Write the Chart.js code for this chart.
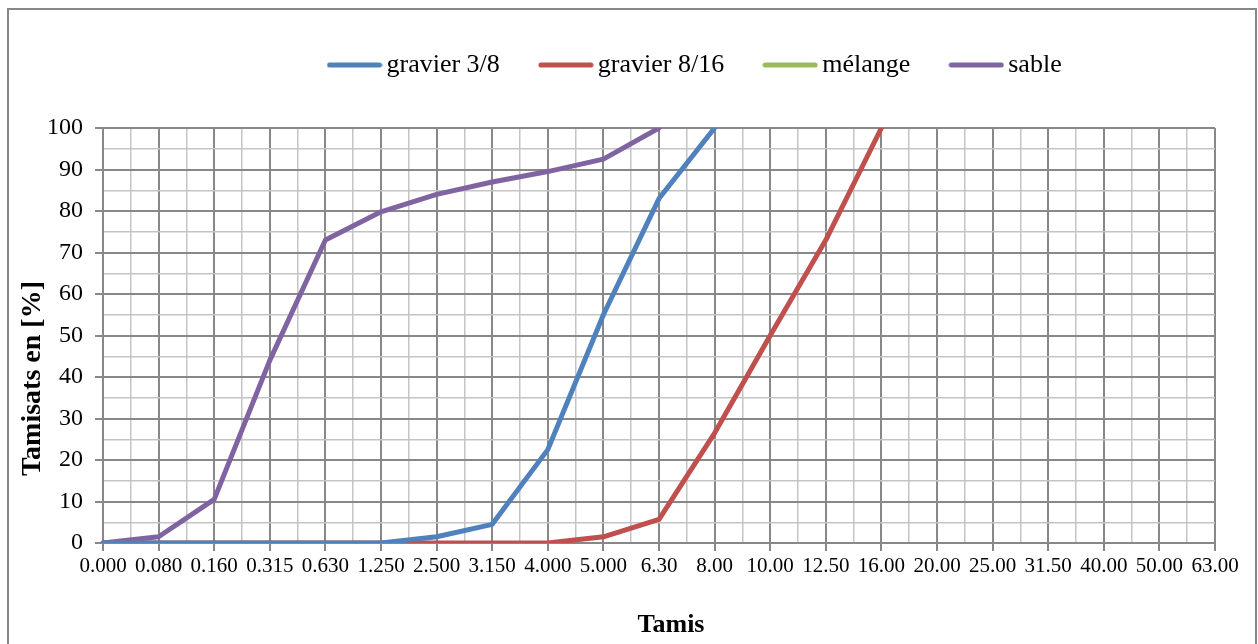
<!DOCTYPE html>
<html>
<head>
<meta charset="utf-8">
<script src="https://cdn.jsdelivr.net/npm/chart.js@4"></script>
<style>
  html, body { margin: 0; padding: 0; background: #fff; }
  #wrap { position: relative; width: 1258px; height: 644px; overflow: hidden; }
  #frame { position: absolute; left: 7px; top: 8px; width: 1246px; height: 700px;
           border: 2px solid #888; border-bottom: none; pointer-events: none; }
  canvas { position: absolute; left: 0; top: 0; }
</style>
</head>
<body>
<div id="wrap">
  <canvas id="chart" width="1258" height="644"></canvas>
  <div id="frame"></div>
</div>
<script>
// Sieve sizes (mm) shown along the horizontal axis
const sieves = ['0.000','0.080','0.160','0.315','0.630','1.250','2.500','3.150','4.000','5.000',
                '6.30','8.00','10.00','12.50','16.00','20.00','25.00','31.50','40.00','50.00','63.00'];

// Cumulative passing (%) for each material
const gravier38  = [0, 0, 0, 0, 0, 0, 1.5, 4.5, 22.5, 55, 83, 100, null, null, null, null, null, null, null, null, null];
const gravier816 = [0, 0, 0, 0, 0, 0, 0, 0, 0, 1.5, 5.7, 26.5, 50, 73, 100, null, null, null, null, null, null];
const melange    = [null, null, null, null, null, null, null, null, null, null, null, null, null, null, null, null, null, null, null, null, null];
const sable      = [0, 1.5, 10.5, 44, 73, 79.8, 84, 87, 89.5, 92.5, 100, null, null, null, null, null, null, null, null, null, null];

// Y-axis ticks: labelled every 10, minor gridline every 5
const yTickStep = 5;
const yLabelStep = 10;

const xTitle = 'Tamis';
const yTitle = 'Tamisats en [%]';

const MAJOR = '#888888';
const MINOR = '#c4c4c4';
const SERIF = '"Liberation Serif", "Times New Roman", serif';

// Fixed plot frame
const PLOT = { left: 103, right: 1215, top: 128, bottom: 543 };
const LEGEND_TOP = 5;
const LEGEND_FIRST_X = 335.5;   // left edge of the first legend item box
const LEGEND_BOX = 38;          // legend box width used for text placement

// Legend swatch: a thick rounded stroke slightly wider than the box
function swatch(color) {
  const c = document.createElement('canvas');
  c.width = 56; c.height = 8;
  const g = c.getContext('2d');
  g.strokeStyle = color;
  g.lineWidth = 5;
  g.lineCap = 'round';
  g.beginPath();
  g.moveTo(3, 4);
  g.lineTo(53, 4);
  g.stroke();
  return c;
}

const framePlugin = {
  id: 'framePlugin',
  beforeInit(chart) {
    const legend = chart.legend;
    const fit = legend.fit;
    legend.fit = function () {
      fit.call(this);
      this.height = PLOT.top - LEGEND_TOP;
    };
  },
  afterLayout(chart) {
    const l = chart.legend;
    const pad = l.options.labels.padding;
    const start = (l.left + pad + l.right - l.lineWidths[0]) / 2;
    const dx = LEGEND_FIRST_X - start;
    l.left += dx;
    l.right += dx;
  },
  afterDraw(chart) {
    const ctx = chart.ctx;
    ctx.save();
    ctx.fillStyle = '#000';
    ctx.font = 'bold 26px ' + SERIF;
    ctx.textAlign = 'center';
    ctx.textBaseline = 'alphabetic';
    ctx.fillText(xTitle, 671, 632);
    ctx.translate(40, 378.5);
    ctx.rotate(-Math.PI / 2);
    ctx.font = 'bold 28px ' + SERIF;
    ctx.fillText(yTitle, 0, 0);
    ctx.restore();
  }
};

function series(label, data, color) {
  return {
    label, data,
    borderColor: color,
    backgroundColor: color,
    borderWidth: 5,
    borderCapStyle: 'round',
    borderJoinStyle: 'round',
    pointStyle: swatch(color),
    pointRadius: 0,
    pointHoverRadius: 0,
    tension: 0,
    spanGaps: false,
    fill: false
  };
}

new Chart(document.getElementById('chart'), {
  type: 'line',
  data: {
    labels: sieves,
    datasets: [
      series('gravier 3/8', gravier38, '#4f81bd'),
      series('gravier 8/16', gravier816, '#c0504d'),
      series('mélange', melange, '#9bbb59'),
      series('sable', sable, '#8064a2')
    ]
  },
  options: {
    responsive: false,
    animation: false,
    devicePixelRatio: 1,
    layout: { padding: { left: 10, right: 1258 - PLOT.right, top: LEGEND_TOP, bottom: 0 } },
    plugins: {
      tooltip: { enabled: false },
      legend: {
        position: 'top',
        align: 'center',
        labels: {
          usePointStyle: true,
          pointStyleWidth: LEGEND_BOX,
          padding: 47,
          color: '#000',
          font: { family: SERIF, size: 26 }
        }
      }
    },
    scales: {
      x: {
        type: 'category',
        position: 'bottom',
        offset: false,
        grid: {
          color: MAJOR,
          lineWidth: 2,
          tickLength: 8,
          tickColor: MAJOR,
          offset: false
        },
        border: { color: MAJOR, width: 2 },
        ticks: {
          autoSkip: false,
          maxRotation: 0,
          minRotation: 0,
          padding: 3,
          color: '#000',
          font: { family: SERIF, size: 21 }
        },
        title: { display: false },
        afterFit(scale) {
          scale.height = 644 - PLOT.bottom;
          scale.paddingLeft = 0;
          scale.paddingRight = 0;
        }
      },
      xMinor: {
        type: 'linear',
        position: 'top',
        min: 0,
        max: sieves.length - 1,
        ticks: { display: false, stepSize: 0.5 },
        grid: {
          drawTicks: false,
          lineWidth: 1.5,
          color: c => Number.isInteger(c.tick.value) ? 'rgba(0,0,0,0)' : MINOR
        },
        border: { display: false },
        afterFit(scale) {
          scale.height = 0;
          scale.paddingLeft = 0;
          scale.paddingRight = 0;
        }
      },
      y: {
        type: 'linear',
        position: 'left',
        min: 0,
        max: 100,
        grid: {
          lineWidth: c => c.tick.value % yLabelStep === 0 ? 2 : 1.5,
          color: c => c.tick.value % yLabelStep === 0 ? MAJOR : MINOR,
          tickLength: 8,
          tickColor: c => c.tick.value % yLabelStep === 0 ? MAJOR : 'rgba(0,0,0,0)'
        },
        border: { color: MAJOR, width: 2 },
        ticks: {
          stepSize: yTickStep,
          autoSkip: false,
          padding: 12,
          color: '#000',
          font: { family: SERIF, size: 24 },
          callback: v => v % yLabelStep === 0 ? String(v) : ''
        },
        title: { display: false },
        afterFit(scale) {
          scale.width = PLOT.left - 10;
          scale.paddingTop = 0;
          scale.paddingBottom = 0;
        }
      }
    }
  },
  plugins: [framePlugin]
});
</script>
</body>
</html>
